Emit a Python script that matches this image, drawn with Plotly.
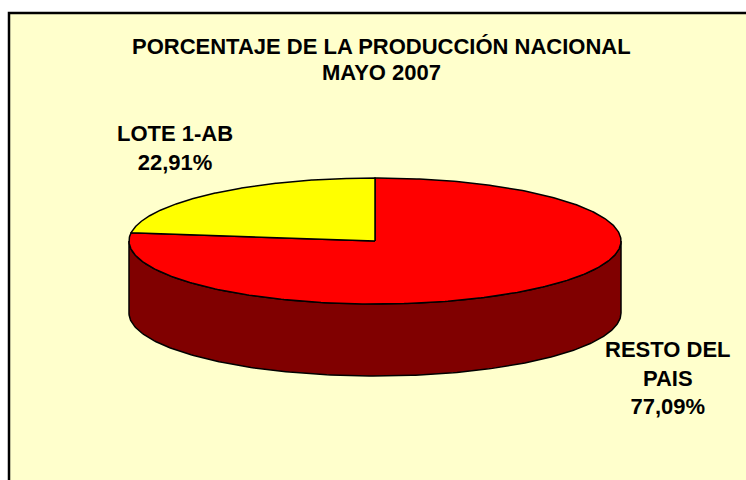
import numpy as np
import plotly.graph_objects as go

# ---- data ----
labels = ["RESTO DEL<br>PAIS", "LOTE 1-AB"]
values = [77.09, 22.91]
title_lines = ["PORCENTAJE DE LA PRODUCCIÓN NACIONAL", "MAYO 2007"]

# ---- styles / geometry (pixel units) ----
top_colors = ["#FF0000", "#FFFF00"]
side_colors = ["#800000", "#808000"]
CX, CY, RX, RY, DEPTH = 375, 241, 246, 63, 72
label_pos = [(668, 378), (175, 148)]
FONT = "Arial, Liberation Sans, sans-serif"

fig = go.Figure()

def pt(t_deg, dy=0.0):
    t = np.radians(t_deg)
    return CX + RX * np.cos(t), CY - RY * np.sin(t) + dy

total = sum(values)
slices = []
start = 90.0
for v in values:
    sweep = 360.0 * v / total
    slices.append((start - sweep, start))  # clockwise
    start -= sweep

# side walls (front half: sin<0)
for (t1, t0), col in zip(slices, side_colors):
    for k in range(-2, 2):
        lo, hi = -180 + 360 * k, 0 + 360 * k
        a, b = max(t1, lo), min(t0, hi)
        if b - a <= 0.01:
            continue
        ts = np.linspace(a, b, 200)
        xt, yt = pt(ts)
        xb, yb = pt(ts[::-1], DEPTH)
        xs = np.concatenate([xt, xb, xt[:1]])
        ys = np.concatenate([yt, yb, yt[:1]])
        fig.add_trace(go.Scatter(x=xs, y=ys, mode="lines", fill="toself",
                                 fillcolor=col, line=dict(color="black", width=1.5),
                                 hoverinfo="skip", showlegend=False))

# top faces
for (t1, t0), col in zip(slices, top_colors):
    ts = np.linspace(t0, t1, 400)
    xa, ya = pt(ts)
    xs = np.concatenate([[CX], xa, [CX]])
    ys = np.concatenate([[CY], ya, [CY]])
    fig.add_trace(go.Scatter(x=xs, y=ys, mode="lines", fill="toself",
                             fillcolor=col, line=dict(color="black", width=1.5),
                             hoverinfo="skip", showlegend=False))

annotations = []
for lab, v, (lx, ly) in zip(labels, values, label_pos):
    pct = f"{100 * v / total:.2f}".replace(".", ",") + "%"
    annotations.append(dict(x=lx, y=ly, xref="x", yref="y", showarrow=False,
                            text=f"<b>{lab}<br>{pct}</b>", align="center",
                            font=dict(family=FONT, size=22, color="black")))
for txt, ty in zip(title_lines, [46, 72]):
    annotations.append(dict(x=381, y=ty, xref="x", yref="y", showarrow=False,
                            text=f"<b>{txt}</b>", align="center",
                            font=dict(family=FONT, size=22, color="black")))

fig.update_layout(
    width=746, height=480,
    margin=dict(l=0, r=0, t=0, b=0),
    paper_bgcolor="white", plot_bgcolor="rgba(0,0,0,0)",
    xaxis=dict(range=[0, 746], visible=False, fixedrange=True),
    yaxis=dict(range=[480, 0], visible=False, fixedrange=True),
    shapes=[dict(type="rect", xref="x", yref="y", x0=9, y0=13, x1=760, y1=495,
                 fillcolor="#FFFFCC", line=dict(color="black", width=2.5),
                 layer="below")],
    annotations=annotations,
)

fig.write_html("out.html",
               config={"displayModeBar": False},
               post_script="document.body.style.margin='0px';document.body.style.overflow='hidden';")
